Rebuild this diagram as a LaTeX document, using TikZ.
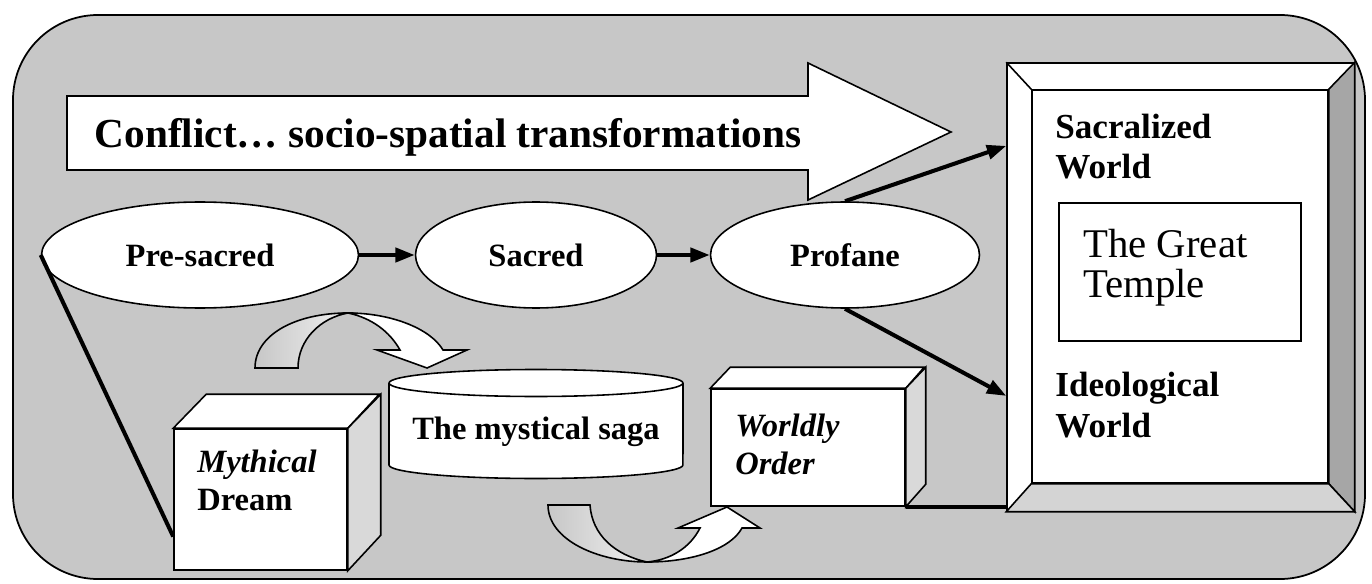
\documentclass[tikz,border=0pt]{standalone}
\usepackage{fontspec}
\setmainfont{Liberation Serif}
\usetikzlibrary{shapes,arrows.meta,positioning}

\begin{document}
\begin{tikzpicture}[x=0.02cm,y=-0.02cm]
		\useasboundingbox (0,0) rectangle (1372,584);
		\draw[line width=1pt, fill=black!22, rounded corners=1.7cm] (13,15) rectangle (1365,579);
		\begin{scope}
            [
                styleOval/.style={
					draw, ellipse, fill=white, line width=0.9pt,
					minimum height=2.12cm, minimum width=#1,
					font=\fontsize{18.5}{22}\selectfont\bfseries
					},
				styleFace/.style={draw, rectangle, fill=white, line width=0.9pt, inner sep=0pt},
				styleText/.style={inner sep=0pt, anchor=west, align=left, font=\fontsize{18.5}{21.5}\selectfont\bfseries},
				styleWorld/.style={inner sep=0pt, anchor=west, align=left, font=\fontsize{20}{23}\selectfont\bfseries},
				styleLine/.style={line width=0.9pt},
            ]
			% big arrow
			\draw[styleLine, fill=white] (67,96) -- (808,96) -- (808,63) -- (951,132) -- (808,200) -- (808,170) -- (67,170) -- cycle;
			\node(conflict)[anchor=base, inner sep=0pt, font=\fontsize{23.5}{28}\selectfont\bfseries] at (448,148) {Conflict… socio-spatial transformations};

			\node(pre)[styleOval=6.34cm] at (200,255) {Pre-sacred};
			\node(sacred)[styleOval=4.82cm] at (536,255) {Sacred};
			\node(profane)[styleOval=5.38cm] at (845,255) {Profane};

			% frame on the right
			\node(frame)[styleFace, minimum width=6.94cm, minimum height=8.96cm] at (1180.5,287) {};
			\node(world)[styleFace, minimum width=5.92cm, minimum height=7.86cm] at (1180,286.5) {};
			\draw[styleLine, fill=black!35] (frame.north east) -- (frame.south east) -- (world.south east) -- (world.north east) -- cycle;
			\draw[styleLine, fill=black!17] (frame.south west) -- (frame.south east) -- (world.south east) -- (world.south west) -- cycle;
			\draw[styleLine] (frame.north west) -- (world.north west);
			\node(sacr)[styleWorld] at (1055,146.5) {Sacralized\\World};
			\node(temple)[styleFace, minimum width=4.84cm, minimum height=2.76cm] at (1180,272) {};
			\node(templetext)[inner sep=0pt, anchor=west, align=left, font=\fontsize{23.2}{22.7}\selectfont] at (1083,268) {The Great\\Temple};
			\node(ideo)[styleWorld] at (1055,405) {Ideological\\World};

			% curved arrows
			\draw[styleLine, left color=black!22, right color=black!6] (255,368) .. controls (255,335) and (295,313) .. (348,313) .. controls (320,318) and (298,340) .. (298,368) -- cycle;
			\draw[styleLine, fill=white] (348,313) .. controls (390,313) and (430,328) .. (443,350) -- (467,350) -- (427,368) -- (377,350) -- (400,350) .. controls (390,332) and (372,318) .. (348,313) -- cycle;
			\draw[styleLine, left color=black!22, right color=black!6] (548,505) -- (590,505) .. controls (592,535) and (615,555) .. (647,562) .. controls (598,562) and (548,540) .. (548,505) -- cycle;
			\draw[styleLine, fill=white] (647,562) .. controls (690,562) and (730,550) .. (742,528) -- (760,528) -- (727,507) -- (678,528) -- (700,528) .. controls (690,548) and (670,560) .. (647,562) -- cycle;

			% cylinder
			\draw[styleLine, fill=white] (389,383) -- (389,465) arc[start angle=180, end angle=360, x radius=2.94cm, y radius=0.27cm] -- (683,383);
			\draw[styleLine, fill=white] (536,383) ellipse [x radius=2.94cm, y radius=0.27cm];
			\node(saga)[inner sep=0pt, font=\fontsize{18.5}{22}\selectfont\bfseries] at (536,432) {The mystical saga};

			% cubes
			\node(dream)[styleFace, minimum width=3.46cm, minimum height=2.82cm] at (260.5,499.5) {};
			\draw[styleLine, fill=white] (dream.north west) -- ++(33,-34) -- ++(173,0) -- (dream.north east) -- cycle;
			\draw[styleLine, fill=black!15] (dream.north east) -- ++(33,-34) -- ++(0,141) -- (dream.south east) -- cycle;
			\node(dreamtext)[styleText] at (197,480) {\textit{Mythical}\\Dream};

			\node(order)[styleFace, minimum width=3.88cm, minimum height=2.34cm] at (808,447.5) {};
			\draw[styleLine, fill=white] (order.north west) -- ++(20,-21) -- ++(194,0) -- (order.north east) -- cycle;
			\draw[styleLine, fill=black!15] (order.north east) -- ++(20,-21) -- ++(0,117) -- (order.south east) -- cycle;
			\node(ordertext)[styleText] at (735,444) {\textit{Worldly}\\\textit{Order}};
		\end{scope}
		\begin{scope}
            [-{Triangle[length=11pt,width=8pt]}, line width=2.3pt]
            \path
			(pre) edge                      (sacred)
			(sacred) edge                   (profane)
			(profane.north) edge            (frame.141)
			(profane.south) edge            (frame.212)
			(pre.west) edge[-]              (dream.203)
			(order.south east) edge[-]      (order.south east -| frame.west);
		\end{scope}
    \end{tikzpicture}
\end{document}
